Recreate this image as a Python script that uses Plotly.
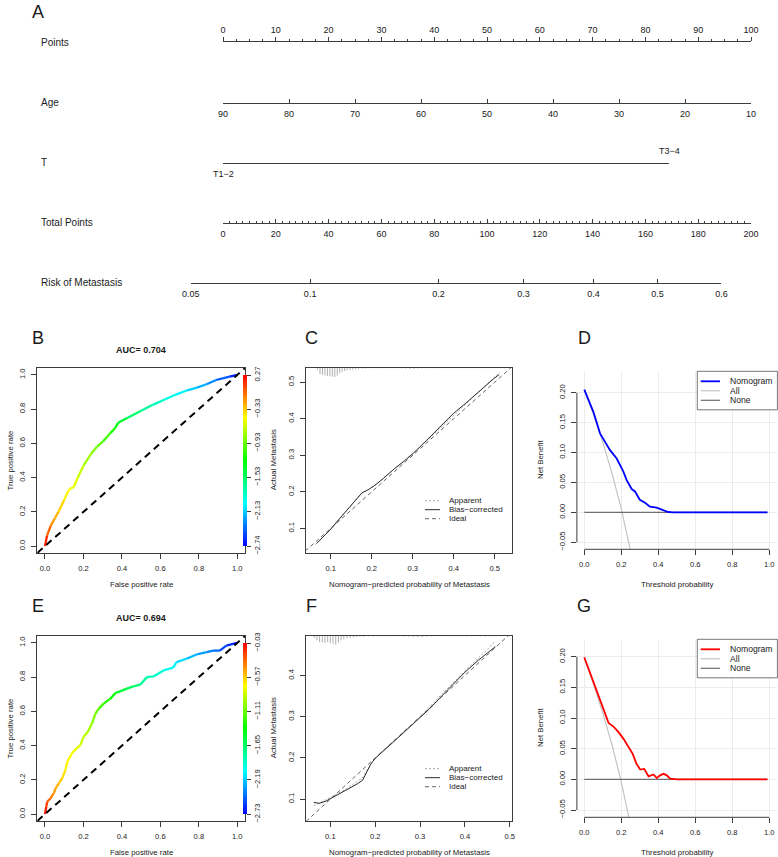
import plotly.graph_objects as go
from plotly.colors import sample_colorscale

W, H = 778, 857
FONT = "Liberation Sans, Arial, Helvetica, sans-serif"
INK = "#1a1a1a"
AXC = "#3c3c3c"
TICK_FS = 7.6
TITLE_FS = 7.8

# ---------------- A: nomogram ----------------
points_ticks = [0, 10, 20, 30, 40, 50, 60, 70, 80, 90, 100]
age_ticks = [90, 80, 70, 60, 50, 40, 30, 20, 10]
t_labels = ["T1\u22122", "T3\u22124"]
t_points = [0, 84.5]
total_ticks = [0, 20, 40, 60, 80, 100, 120, 140, 160, 180, 200]
risk_labels = ["0.05", "0.1", "0.2", "0.3", "0.4", "0.5", "0.6"]
risk_total_points = [-12.2, 33.0, 81.6, 113.8, 140.3, 164.6, 188.8]
row_labels = ["Points", "Age", "T", "Total Points", "Risk of Metastasis"]

# ---------------- B / E: ROC ----------------
roc_b_fpr = [0.00, 0.01, 0.03, 0.05, 0.07, 0.10, 0.12, 0.13, 0.15, 0.17, 0.20, 0.24, 0.27, 0.30,
             0.34, 0.365, 0.38, 0.43, 0.50, 0.56, 0.62, 0.68, 0.74, 0.79, 0.84, 0.89, 0.96, 1.00]
roc_b_tpr = [0.00, 0.06, 0.12, 0.16, 0.20, 0.27, 0.32, 0.335, 0.345, 0.40, 0.47, 0.54, 0.58, 0.61,
             0.66, 0.69, 0.72, 0.75, 0.79, 0.825, 0.855, 0.885, 0.91, 0.925, 0.945, 0.97, 0.99, 1.00]
roc_b_cut = [0.27, 0.06, -0.12, -0.21, -0.30, -0.42, -0.48, -0.51, -0.54, -0.60, -0.69, -0.81, -0.90, -0.99,
             -1.11, -1.20, -1.30, -1.48, -1.63, -1.75, -1.87, -1.96, -2.08, -2.17, -2.26, -2.38, -2.56, -2.74]
roc_b_bar = [0.27, -0.33, -0.93, -1.53, -2.13, -2.74]
roc_b_bar_text = ["0.27", "\u22120.33", "\u22120.93", "\u22121.53", "\u22122.13", "\u22122.74"]
auc_b = "AUC= 0.704"

roc_e_fpr = [0.000, 0.007, 0.012, 0.030, 0.038, 0.045, 0.055, 0.072, 0.090, 0.107,
             0.116, 0.140, 0.159, 0.184, 0.200, 0.222, 0.245, 0.262, 0.280, 0.305,
             0.340, 0.366, 0.390, 0.426, 0.460, 0.495, 0.530, 0.564, 0.616, 0.667,
             0.684, 0.736, 0.788, 0.840, 0.874, 0.909, 0.943, 0.978, 1.000]
roc_e_tpr = [0.000, 0.045, 0.074, 0.093, 0.110, 0.120, 0.150, 0.180, 0.210, 0.260,
             0.306, 0.355, 0.378, 0.403, 0.450, 0.480, 0.530, 0.587, 0.616, 0.645,
             0.674, 0.707, 0.717, 0.733, 0.746, 0.756, 0.800, 0.804, 0.839, 0.855,
             0.888, 0.907, 0.932, 0.946, 0.955, 0.955, 0.984, 0.994, 1.000]
roc_e_cut = [-0.03, -0.16, -0.25, -0.33, -0.38, -0.41, -0.46, -0.54, -0.60, -0.65,
             -0.68, -0.73, -0.76, -0.81, -0.87, -0.92, -1.00, -1.08, -1.16, -1.25,
             -1.33, -1.41, -1.49, -1.57, -1.65, -1.73, -1.84, -1.89, -1.97, -2.06,
             -2.11, -2.19, -2.27, -2.35, -2.41, -2.49, -2.57, -2.65, -2.73]
roc_e_bar = [-0.03, -0.57, -1.11, -1.65, -2.19, -2.73]
roc_e_bar_text = ["\u22120.03", "\u22120.57", "\u22121.11", "\u22121.65", "\u22122.19", "\u22122.73"]
auc_e = "AUC= 0.694"

# ---------------- C / F: calibration ----------------
cal_c_bc_x = [0.066, 0.082, 0.098, 0.119, 0.139, 0.159, 0.176, 0.192, 0.208, 0.228,
              0.253, 0.277, 0.302, 0.334, 0.367, 0.399, 0.432, 0.464, 0.497, 0.511]
cal_c_bc_y = [0.059, 0.077, 0.095, 0.123, 0.150, 0.177, 0.197, 0.206, 0.218, 0.236,
              0.261, 0.282, 0.306, 0.341, 0.377, 0.414, 0.445, 0.477, 0.509, 0.521]
cal_c_app_x = [0.063, 0.080, 0.100, 0.120, 0.150, 0.175, 0.190, 0.210, 0.250, 0.300,
               0.350, 0.400, 0.450, 0.500, 0.512]
cal_c_app_y = [0.056, 0.075, 0.098, 0.125, 0.163, 0.195, 0.205, 0.220, 0.258, 0.305,
               0.356, 0.409, 0.462, 0.514, 0.527]
cal_c_rug_x = [0.068, 0.074, 0.080, 0.086, 0.092, 0.098, 0.104, 0.110, 0.116, 0.122,
               0.128, 0.134, 0.140, 0.147, 0.154, 0.161, 0.168, 0.176, 0.184, 0.193,
               0.203, 0.213, 0.223, 0.233, 0.243, 0.253, 0.263, 0.273, 0.283, 0.293,
               0.303, 0.313, 0.323, 0.333, 0.343, 0.353, 0.363, 0.373, 0.383, 0.393,
               0.403, 0.413, 0.423, 0.433, 0.443, 0.453, 0.463, 0.473, 0.483, 0.493,
               0.503, 0.513, 0.523]
cal_c_rug_h = [0.006, 0.018, 0.020, 0.022, 0.023, 0.024, 0.025, 0.026, 0.022, 0.016,
               0.012, 0.010, 0.008, 0.007, 0.006, 0.005, 0.004, 0.003, 0.003, 0.002,
               0.002, 0.002, 0.002, 0.002, 0.002, 0.002, 0.002, 0.002, 0.003, 0.004,
               0.004, 0.003, 0.002, 0.002, 0.002, 0.002, 0.002, 0.002, 0.002, 0.002,
               0.002, 0.002, 0.002, 0.002, 0.002, 0.002, 0.002, 0.002, 0.002, 0.002,
               0.002, 0.002, 0.002]
cal_c_xrange = [0.0398, 0.542]
cal_c_yrange = [0.0326, 0.540]

cal_f_bc_x = [0.063, 0.075, 0.090, 0.100, 0.120, 0.140, 0.160, 0.172, 0.180, 0.190, 0.200,
              0.220, 0.250, 0.280, 0.300, 0.320, 0.350, 0.380, 0.400, 0.430, 0.450, 0.468]
cal_f_bc_y = [0.092, 0.090, 0.095, 0.101, 0.112, 0.125, 0.137, 0.146, 0.165, 0.185, 0.199,
              0.218, 0.248, 0.278, 0.298, 0.318, 0.352, 0.385, 0.408, 0.437, 0.455, 0.470]
cal_f_app_x = [0.063, 0.080, 0.100, 0.140, 0.170, 0.190, 0.200, 0.250, 0.300, 0.350,
               0.400, 0.450, 0.468]
cal_f_app_y = [0.084, 0.093, 0.104, 0.128, 0.150, 0.183, 0.200, 0.250, 0.300, 0.356,
               0.411, 0.463, 0.484]
cal_f_rug_x = [0.064, 0.070, 0.076, 0.082, 0.088, 0.094, 0.100, 0.106, 0.112, 0.118,
               0.124, 0.130, 0.137, 0.144, 0.151, 0.158, 0.166, 0.175, 0.185, 0.195,
               0.205, 0.215, 0.225, 0.235, 0.245, 0.255, 0.265, 0.275, 0.285, 0.295,
               0.305, 0.315, 0.325, 0.335, 0.345, 0.355, 0.365, 0.375, 0.385, 0.395,
               0.405, 0.415, 0.425, 0.435, 0.445, 0.455, 0.465]
cal_f_rug_h = [0.006, 0.012, 0.016, 0.017, 0.018, 0.016, 0.019, 0.020, 0.022, 0.017,
               0.012, 0.009, 0.007, 0.006, 0.005, 0.004, 0.003, 0.003, 0.002, 0.002,
               0.002, 0.002, 0.002, 0.002, 0.002, 0.002, 0.003, 0.003, 0.004, 0.004,
               0.004, 0.003, 0.002, 0.002, 0.002, 0.002, 0.002, 0.002, 0.002, 0.002,
               0.002, 0.002, 0.002, 0.002, 0.002, 0.002, 0.002]
cal_f_xrange = [0.0457, 0.505]
cal_f_yrange = [0.047, 0.497]
cal_ticks = [0.1, 0.2, 0.3, 0.4, 0.5]
cal_legend = ["Apparent", "Bias\u2212corrected", "Ideal"]

# ---------------- D / G: decision curves ----------------
dca_d_x = [0.000, 0.022, 0.049, 0.085, 0.112, 0.139, 0.175, 0.210, 0.229, 0.256,
           0.274, 0.300, 0.328, 0.355, 0.391, 0.427, 0.454, 0.480, 0.990]
dca_d_nb = [0.205, 0.188, 0.168, 0.132, 0.118, 0.104, 0.090, 0.069, 0.054, 0.039,
            0.035, 0.021, 0.016, 0.0095, 0.0078, 0.0039, 0.0006, 0.0, 0.0]
dca_d_all_x = [0.00, 0.05, 0.10, 0.15, 0.20, 0.25, 0.30]
dca_d_all = [0.205, 0.163, 0.117, 0.065, 0.006, -0.060, -0.135]
dca_d_yrange = [-0.0617, 0.2346]

dca_g_x = [0.000, 0.032, 0.059, 0.086, 0.113, 0.131, 0.158, 0.185, 0.212, 0.239, 0.261, 0.281,
           0.302, 0.324, 0.347, 0.374, 0.392, 0.410, 0.428, 0.446, 0.464, 0.500, 0.990]
dca_g_nb = [0.199, 0.173, 0.151, 0.126, 0.107, 0.092, 0.086, 0.077, 0.066, 0.053, 0.042, 0.026,
            0.016, 0.017, 0.005, 0.008, 0.002, 0.0065, 0.009, 0.0065, 0.001, 0.0, 0.0]
dca_g_all_x = [0.00, 0.05, 0.10, 0.15, 0.20, 0.25, 0.30]
dca_g_all = [0.197, 0.155, 0.108, 0.056, -0.004, -0.071, -0.147]
dca_g_yrange = [-0.0619, 0.2272]

dca_none_x = [0.0, 0.99]
dca_none = [0.0, 0.0]
dca_xticks = [0.0, 0.2, 0.4, 0.6, 0.8, 1.0]
dca_yticks = [-0.05, 0.0, 0.05, 0.10, 0.15, 0.20]
dca_ytext = ["\u22120.05", "0.00", "0.05", "0.10", "0.15", "0.20"]
dca_legend = ["Nomogram", "All", "None"]

RAINBOW = [[0.0, "rgb(0,0,255)"], [0.25, "rgb(0,255,255)"], [0.5, "rgb(0,255,0)"],
           [0.75, "rgb(255,255,0)"], [1.0, "rgb(255,0,0)"]]


def fx(p):
    return p / W


def fy(p):
    return 1 - p / H


def aid(kind, n):
    return f"{kind}axis" if n == 1 else f"{kind}axis{n}"


def rid(kind, n):
    return kind if n == 1 else f"{kind}{n}"


fig = go.Figure()
layout = dict(width=W, height=H, margin=dict(l=0, r=0, t=0, b=0, pad=0, autoexpand=False),
              paper_bgcolor="white", plot_bgcolor="rgba(0,0,0,0)",
              font=dict(family=FONT, color=INK), showlegend=False, hovermode=False)
annotations = []
shapes = []


def add_text(x, y, s, size=TITLE_FS, xanchor="center", angle=0):
    annotations.append(dict(x=fx(x), y=fy(y), xref="paper", yref="paper", text=s,
                            showarrow=False, xanchor=xanchor, yanchor="middle",
                            textangle=angle, borderpad=0,
                            font=dict(size=size, color=INK, family=FONT)))


def ghost(n, xs, ys):
    fig.add_trace(go.Scatter(x=xs, y=ys, xaxis=rid("x", n), yaxis=rid("y", n), mode="markers",
                             marker=dict(opacity=0, size=1), hoverinfo="skip", showlegend=False))


def hline(x0, y0, x1, y1, color, width, dash="solid"):
    shapes.append(dict(type="line", xref="paper", yref="paper", x0=fx(x0), x1=fx(x1),
                       y0=fy(y0), y1=fy(y1), line=dict(color=color, width=width, dash=dash),
                       layer="above"))


# ======== Nomogram rows ========
NOM_L, NOM_R = 223.0, 751.0
px_per_pt = (NOM_R - NOM_L) / points_ticks[-1]
px_per_tot = (NOM_R - NOM_L) / total_ticks[-1]
ROW_Y = [42.0, 102.7, 162.7, 222.7, 282.7]


def nom_row(n, y_px, x0, x1, rng, side, tickdir, tickvals, ticktext=None, labels=True, minor=None,
            standoff=None):
    xa = dict(domain=[fx(x0), fx(x1)], range=rng, anchor=rid("y", n), side=side,
              showline=True, linecolor=AXC, linewidth=1, ticks=tickdir, ticklen=4, tickwidth=1,
              tickcolor=AXC, tickmode="array", tickvals=tickvals, showticklabels=labels,
              tickfont=dict(size=9, color=INK, family=FONT), showgrid=False, zeroline=False,
              fixedrange=True)
    if ticktext is not None:
        xa["ticktext"] = ticktext
    if minor is not None:
        xa["minor"] = dict(tickmode="linear", tick0=0, dtick=minor, ticklen=2, ticks=tickdir,
                           tickcolor=AXC, tickwidth=1, showgrid=False)
    if standoff is not None:
        xa["ticklabelstandoff"] = standoff
    yb = fy(y_px)
    ydom = [yb - 0.004, yb] if side == "top" else [yb, yb + 0.004]
    layout[aid("x", n)] = xa
    layout[aid("y", n)] = dict(domain=ydom, range=[0, 1], visible=False, fixedrange=True)
    ghost(n, tickvals, [0.5] * len(tickvals))


nom_row(1, ROW_Y[0], NOM_L, NOM_R, [points_ticks[0], points_ticks[-1]], "top", "outside",
        points_ticks, [str(v) for v in points_ticks], minor=2.5)
nom_row(2, ROW_Y[1], NOM_L, NOM_R, [age_ticks[0], age_ticks[-1]], "bottom", "inside",
        age_ticks, [str(v) for v in age_ticks], standoff=2)
nom_row(3, ROW_Y[2], NOM_L, NOM_L + px_per_pt * max(t_points), [min(t_points), max(t_points)],
        "bottom", "inside", t_points, labels=False)
nom_row(4, ROW_Y[3], NOM_L, NOM_R, [total_ticks[0], total_ticks[-1]], "bottom", "inside",
        total_ticks, [str(v) for v in total_ticks], minor=2.5, standoff=2)
nom_row(5, ROW_Y[4], NOM_L + px_per_tot * min(risk_total_points),
        NOM_L + px_per_tot * max(risk_total_points),
        [min(risk_total_points), max(risk_total_points)], "bottom", "inside",
        risk_total_points, risk_labels, standoff=2)

for lab, yy in zip(row_labels, ROW_Y):
    add_text(40, yy, lab, size=10, xanchor="left")

annotations.append(dict(x=t_points[0], xref="x3", y=fy(174.0), yref="paper", text=t_labels[0],
                        showarrow=False, xanchor="center", yanchor="middle",
                        font=dict(size=9, color=INK, family=FONT)))
annotations.append(dict(x=t_points[1], xref="x3", y=fy(151.5), yref="paper", text=t_labels[1],
                        showarrow=False, xanchor="center", yanchor="middle",
                        font=dict(size=9, color=INK, family=FONT)))

add_text(38, 12, "A", size=18)

# ======== common boxed axis style ========
BOX = dict(showline=True, mirror=True, linecolor=AXC, linewidth=1, ticks="outside", ticklen=5,
           tickwidth=1, tickcolor=AXC, tickfont=dict(size=TICK_FS, color=INK, family=FONT),
           showgrid=False, zeroline=False, fixedrange=True)

ROW_DY = 268.0


def roc_panel(n, dy, fpr, tpr, cut, bar_vals, bar_text, auc, letter):
    X0, X1 = 37.3, 245.0
    Y0, Y1 = 368.0 + dy, 553.0 + dy
    rng = [-0.04, 1.04]
    ticks = [0.0, 0.2, 0.4, 0.6, 0.8, 1.0]
    ttxt = [f"{t:.1f}" for t in ticks]
    layout[aid("x", n)] = dict(domain=[fx(X0), fx(X1)], range=rng, anchor=rid("y", n),
                               tickvals=ticks, ticktext=ttxt, ticklabelstandoff=3, **BOX)
    layout[aid("y", n)] = dict(domain=[fy(Y1), fy(Y0)], range=rng, anchor=rid("x", n),
                               tickvals=ticks, ticktext=ttxt, tickangle=-90,
                               ticklabelstandoff=3, **BOX)
    cmin, cmax = min(bar_vals), max(bar_vals)
    for i in range(len(fpr) - 1):
        f = ((cut[i] + cut[i + 1]) / 2 - cmin) / (cmax - cmin)
        f = min(max(f, 0.0), 1.0)
        col = sample_colorscale(RAINBOW, [f])[0]
        fig.add_trace(go.Scatter(x=fpr[i:i + 2], y=tpr[i:i + 2], mode="lines",
                                 xaxis=rid("x", n), yaxis=rid("y", n),
                                 line=dict(color=col, width=2.3), hoverinfo="skip",
                                 showlegend=False))
    fig.add_trace(go.Scatter(x=[rng[0], rng[1]], y=[rng[0], rng[1]], mode="lines",
                             xaxis=rid("x", n), yaxis=rid("y", n),
                             line=dict(color="black", width=2, dash="7px,5px"),
                             hoverinfo="skip", showlegend=False))

    def ypx(v):
        return Y1 - (v - rng[0]) / (rng[1] - rng[0]) * (Y1 - Y0)

    bar_bottom, bar_top = ypx(0.0), ypx(1.0)
    fig.add_trace(go.Scatter(
        x=[0.5], y=[0.5], xaxis=rid("x", n), yaxis=rid("y", n), mode="markers",
        marker=dict(size=1, opacity=0, color=[cmin], cmin=cmin, cmax=cmax, colorscale=RAINBOW,
                    showscale=True,
                    colorbar=dict(x=fx(242.7), xanchor="left", xpad=0, y=fy(bar_bottom),
                                  yanchor="bottom", ypad=0, len=bar_bottom - bar_top,
                                  lenmode="pixels", thickness=4, thicknessmode="pixels",
                                  outlinewidth=0, ticks="outside", ticklen=4, tickwidth=1,
                                  tickcolor=AXC, tickmode="array", tickvals=bar_vals,
                                  ticktext=bar_text, tickangle=-90,
                                  tickfont=dict(size=TICK_FS, color=INK, family=FONT))),
        hoverinfo="skip", showlegend=False))
    cx = (X0 + X1) / 2
    add_text(cx, 350.0 + dy, f"<b>{auc}</b>", size=9)
    add_text(cx, 584.5 + dy, "False positive rate")
    add_text(10.0, (Y0 + Y1) / 2, "True positive rate", angle=-90)
    add_text(38.0, 338.0 + dy, letter, size=18)


def cal_panel(n, dy, xr, yr, app_x, app_y, bc_x, bc_y, rug_x, rug_h, letter):
    X0, X1 = 306.0, 512.0
    Y0, Y1 = 367.5 + dy, 553.0 + dy
    ttxt = [f"{t:.1f}" for t in cal_ticks]
    layout[aid("x", n)] = dict(domain=[fx(X0), fx(X1)], range=xr, anchor=rid("y", n),
                               tickvals=cal_ticks, ticktext=ttxt, ticklabelstandoff=3, **BOX)
    layout[aid("y", n)] = dict(domain=[fy(Y1), fy(Y0)], range=yr, anchor=rid("x", n),
                               tickvals=cal_ticks, ticktext=ttxt, tickangle=-90,
                               ticklabelstandoff=3, **BOX)
    rx, ry = [], []
    for x, h in zip(rug_x, rug_h):
        rx += [x, x, None]
        ry += [yr[1], yr[1] - h, None]
    fig.add_trace(go.Scatter(x=rx, y=ry, mode="lines", xaxis=rid("x", n), yaxis=rid("y", n),
                             line=dict(color="#8c8c8c", width=0.7), hoverinfo="skip",
                             showlegend=False))
    fig.add_trace(go.Scatter(x=[0, 1], y=[0, 1], mode="lines", xaxis=rid("x", n),
                             yaxis=rid("y", n), line=dict(color="#555555", width=0.9, dash="4px,3px"),
                             hoverinfo="skip", showlegend=False))
    fig.add_trace(go.Scatter(x=app_x, y=app_y, mode="lines", xaxis=rid("x", n), yaxis=rid("y", n),
                             line=dict(color="#a8a8a8", width=1, dash="2px,2px"),
                             hoverinfo="skip", showlegend=False))
    fig.add_trace(go.Scatter(x=bc_x, y=bc_y, mode="lines", xaxis=rid("x", n), yaxis=rid("y", n),
                             line=dict(color="#2a2a2a", width=1), hoverinfo="skip",
                             showlegend=False))
    ly = [500.7 + dy, 509.7 + dy, 518.7 + dy]
    hline(425, ly[0], 440, ly[0], "#a8a8a8", 1, "2px,2px")
    hline(425, ly[1], 440, ly[1], "#2a2a2a", 1)
    hline(425, ly[2], 440, ly[2], "#555555", 0.9, "4px,3px")
    for s, yy in zip(cal_legend, ly):
        add_text(447.7, yy, s, size=8.0, xanchor="left")
    add_text((X0 + X1) / 2, 584.5 + dy, "Nomogram\u2212predicted probability of Metastasis")
    add_text(273.0, (Y0 + Y1) / 2, "Actual Metastasis", angle=-90)
    add_text(311.0, 338.0 + dy, letter, size=18)


def dca_panel(n, dy, x, nb, all_x, all_nb, yrng, color, letter):
    X0, X1 = 576.9, 776.7
    Y0, Y1 = 372.0 + dy, 549.3 + dy
    GRID = "#ececec"
    layout[aid("x", n)] = dict(domain=[fx(X0), fx(X1)], range=[-0.04, 1.04], anchor=rid("y", n),
                               tickvals=dca_xticks, ticktext=[f"{t:.1f}" for t in dca_xticks],
                               showline=False, ticks="outside", ticklen=5, tickwidth=1,
                               tickcolor=AXC, tickfont=dict(size=TICK_FS, color=INK, family=FONT),
                               showgrid=True, gridcolor=GRID, gridwidth=1, zeroline=False,
                               ticklabelstandoff=3, fixedrange=True)
    layout[aid("y", n)] = dict(domain=[fy(Y1), fy(Y0)], range=yrng, anchor=rid("x", n),
                               tickvals=dca_yticks, ticktext=dca_ytext, tickangle=-90,
                               showline=False, ticks="outside", ticklen=5, tickwidth=1,
                               tickcolor=AXC, tickfont=dict(size=TICK_FS, color=INK, family=FONT),
                               showgrid=True, gridcolor=GRID, gridwidth=1, zeroline=False,
                               ticklabelstandoff=3, fixedrange=True)
    shapes.append(dict(type="line", xref=rid("x", n), yref=rid("y", n) + " domain",
                       x0=dca_xticks[0], x1=dca_xticks[-1], y0=0, y1=0,
                       line=dict(color=AXC, width=1)))
    shapes.append(dict(type="line", xref=rid("x", n) + " domain", yref=rid("y", n),
                       x0=0, x1=0, y0=dca_yticks[0], y1=dca_yticks[-1],
                       line=dict(color=AXC, width=1)))
    fig.add_trace(go.Scatter(x=all_x, y=all_nb, mode="lines", xaxis=rid("x", n), yaxis=rid("y", n),
                             line=dict(color="#c4c4c4", width=1.2), hoverinfo="skip",
                             showlegend=False))
    fig.add_trace(go.Scatter(x=dca_none_x, y=dca_none, mode="lines", xaxis=rid("x", n),
                             yaxis=rid("y", n), line=dict(color="#6e6e6e", width=1.2),
                             hoverinfo="skip", showlegend=False))
    fig.add_trace(go.Scatter(x=x, y=nb, mode="lines", xaxis=rid("x", n), yaxis=rid("y", n),
                             line=dict(color=color, width=1.8), hoverinfo="skip",
                             showlegend=False))
    top = Y0 - 0.7
    shapes.append(dict(type="rect", xref="paper", yref="paper", x0=fx(697.3), x1=fx(777.4),
                       y0=fy(top + 38.5), y1=fy(top), line=dict(color="#555555", width=0.8),
                       fillcolor="white", layer="above"))
    ly = [top + 10.0, top + 19.5, top + 29.0]
    cols = [color, "#c4c4c4", "#6e6e6e"]
    for s, yy, c in zip(dca_legend, ly, cols):
        hline(700.7, yy, 720.0, yy, c, 1.8 if c == color else 1.2)
        add_text(729.3, yy, s, size=8.6, xanchor="left")
    add_text((X0 + X1) / 2, 584.0 + dy, "Threshold probability")
    add_text(540.0, 460.0 + dy, "Net Benefit", angle=-90)
    add_text(584.0, 338.0 + dy, letter, size=18)


roc_panel(6, 0.0, roc_b_fpr, roc_b_tpr, roc_b_cut, roc_b_bar, roc_b_bar_text, auc_b, "B")
cal_panel(7, 0.0, cal_c_xrange, cal_c_yrange, cal_c_app_x, cal_c_app_y, cal_c_bc_x, cal_c_bc_y,
          cal_c_rug_x, cal_c_rug_h, "C")
dca_panel(8, 0.0, dca_d_x, dca_d_nb, dca_d_all_x, dca_d_all, dca_d_yrange, "#0000ff", "D")
roc_panel(9, ROW_DY, roc_e_fpr, roc_e_tpr, roc_e_cut, roc_e_bar, roc_e_bar_text, auc_e, "E")
cal_panel(10, ROW_DY, cal_f_xrange, cal_f_yrange, cal_f_app_x, cal_f_app_y, cal_f_bc_x, cal_f_bc_y,
          cal_f_rug_x, cal_f_rug_h, "F")
dca_panel(11, ROW_DY, dca_g_x, dca_g_nb, dca_g_all_x, dca_g_all, dca_g_yrange, "#ff0000", "G")

layout["annotations"] = annotations
layout["shapes"] = shapes
fig.update_layout(**layout)
fig.write_html("out.html", config={"displayModeBar": False, "staticPlot": True},
               post_script="document.body.style.margin='0px';")
